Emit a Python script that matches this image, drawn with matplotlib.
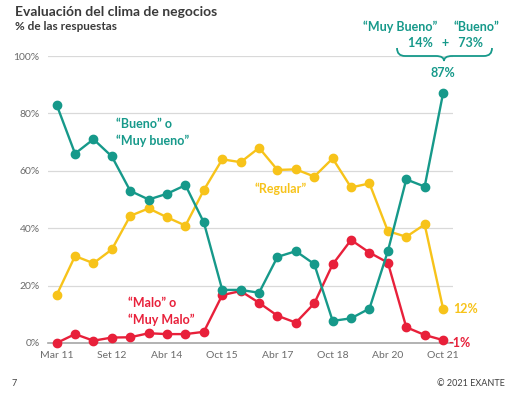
import matplotlib.pyplot as plt
from matplotlib.path import Path
from matplotlib.patches import PathPatch

plt.rcParams['font.family'] = ['Lato', 'DejaVu Sans']

# datos (% de las respuestas)
periodos = ['Mar 11', '', '', 'Set 12', '', '', 'Abr 14', '', '', 'Oct 15', '', '',
            'Abr 17', '', '', 'Oct 18', '', '', 'Abr 20', '', '', 'Oct 21']
bueno = [83, 66, 71, 65, 53, 50, 52, 55, 42, 18.5, 18.5, 17.5, 30, 32, 27.5,
         7.7, 8.6, 12, 32, 57, 54.5, 87]
regular = [16.7, 30.3, 27.8, 32.6, 44.3, 46.9, 43.8, 40.9, 53.3, 64, 63, 68,
           60.3, 60.5, 58, 64.3, 54.2, 55.6, 39, 37, 41.3, 12]
malo = [0, 3.1, 0.8, 1.9, 2, 3.4, 3.1, 3.1, 3.9, 16.7, 18.1, 14, 9.5, 7.1, 13.8,
        27.4, 35.9, 31.5, 28, 5.5, 2.8, 1]

TEAL = '#16998a'
YEL = '#f7c31a'
RED = '#e8203a'
GRIS = '#6b6b6b'

W, H = 517, 393
fig = plt.figure(figsize=(W / 100, H / 100), dpi=100)
ax = fig.add_axes([48 / W, 1 - 343 / H, (453 - 48) / W, (343 - 56) / H])

x = list(range(len(periodos)))
for serie, col in [(regular, YEL), (malo, RED), (bueno, TEAL)]:
    ax.plot(x, serie, color=col, lw=1.7, marker='o', ms=6, clip_on=False, zorder=3)

ax.set_xlim(-0.47, 21.54)
ax.set_ylim(0, 100)
ax.set_yticks([0, 20, 40, 60, 80, 100])
ax.set_yticklabels([f'{v}%' for v in [0, 20, 40, 60, 80, 100]])
ticks = [i for i, p in enumerate(periodos) if p]
ax.set_xticks(ticks)
ax.set_xticklabels([periodos[i] for i in ticks])
ax.tick_params(length=0, labelsize=7.5, colors=GRIS, pad=6)
ax.grid(axis='y', color='#d9d9d9', lw=0.9)
ax.set_axisbelow(True)
for s in ['top', 'right', 'left']:
    ax.spines[s].set_visible(False)
ax.spines['bottom'].set_color('#a6a6a6')
ax.spines['bottom'].set_linewidth(1.2)

# etiquetas de series
ax.text(3.2, 73.3, '“Bueno” o\n“Muy bueno”', color=TEAL, fontsize=9,
        fontweight='bold', ha='left', va='center', linespacing=1.45)
ax.text(12.2, 53.7, '“Regular”', color=YEL, fontsize=9, fontweight='bold',
        ha='center', va='center')
ax.text(3.87, 11.1, '“Malo” o\n“Muy Malo”', color=RED, fontsize=9,
        fontweight='bold', ha='left', va='center', linespacing=1.45)
ax.text(21.55, regular[-1], '12%', color=YEL, fontsize=9, fontweight='bold',
        ha='left', va='center')
ax.text(21.3, 0, '-1%', color=RED, fontsize=9, fontweight='bold',
        ha='left', va='center')
ax.text(21, bueno[-1] + 5, '87%', color=TEAL, fontsize=9, fontweight='bold',
        ha='center', va='bottom')

# títulos y pie
fig.text(15 / W, 1 - 12 / H, 'Evaluación del clima de negocios', fontsize=10,
         fontweight='bold', color='#3a3a3a', va='center')
fig.text(15 / W, 1 - 27 / H, '% de las respuestas', fontsize=8.5,
         fontweight='bold', color='#3a3a3a', va='center')
fig.text(12 / W, 1 - 383 / H, '7', fontsize=6.5, color='#404040', va='center')
fig.text(505 / W, 1 - 383 / H, '© 2021 EXANTE', fontsize=6.5, color='#404040',
         va='center', ha='right')

# desglose de 87%
fig.text(400 / W, 1 - 27 / H, '“Muy Bueno”', color=TEAL, fontsize=9,
         fontweight='bold', ha='center', va='center')
fig.text(476 / W, 1 - 27 / H, '“Bueno”', color=TEAL, fontsize=9,
         fontweight='bold', ha='center', va='center')
fig.text(445 / W, 1 - 43 / H, '14%   +   73%', color=TEAL, fontsize=9,
         fontweight='bold', ha='center', va='center')

# llave
def p(px, py):
    return (px / W, 1 - py / H)

verts = [p(397, 48), p(397, 56), p(405, 56),
         p(436, 56),
         p(444, 56), p(444, 61),
         p(444, 56), p(452, 56),
         p(484, 56),
         p(492, 56), p(492, 48)]
codes = [Path.MOVETO, Path.CURVE3, Path.CURVE3,
         Path.LINETO,
         Path.CURVE3, Path.CURVE3,
         Path.CURVE3, Path.CURVE3,
         Path.LINETO,
         Path.CURVE3, Path.CURVE3]
fig.patches.append(PathPatch(Path(verts, codes), transform=fig.transFigure,
                             fill=False, edgecolor=TEAL, lw=1.3))

fig.savefig('out.png', dpi=100)
